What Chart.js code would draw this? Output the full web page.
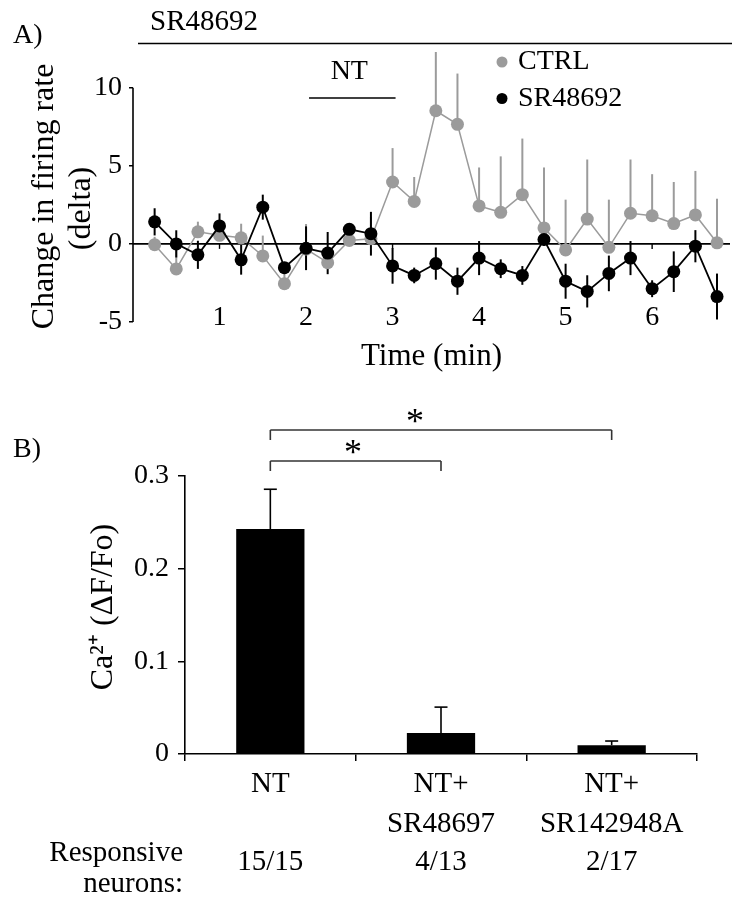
<!DOCTYPE html>
<html><head><meta charset="utf-8">
<script src="https://cdn.jsdelivr.net/npm/chart.js@4"></script>
<style>
html,body{margin:0;padding:0;background:#fff;}
#wrap{position:relative;width:739px;height:900px;overflow:hidden;}
#c1{position:absolute;left:0;top:0;}
#c2{position:absolute;left:0;top:390px;}
</style></head><body>
<div id="wrap">
<canvas id="c1" width="739" height="380"></canvas>
<canvas id="c2" width="739" height="510"></canvas>
</div>
<script>
// ---------- Panel A data ----------
const timeMin = [0.25,0.5,0.75,1.0,1.25,1.5,1.75,2.0,2.25,2.5,2.75,3.0,3.25,3.5,3.75,4.0,4.25,4.5,4.75,5.0,5.25,5.5,5.75,6.0,6.25,6.5,6.75];
const ctrlDelta = [-0.05,-1.6,0.77,0.55,0.39,-0.77,-2.55,-0.33,-1.2,0.22,0.33,3.96,2.72,8.52,7.65,2.43,2.02,3.15,1.02,-0.39,1.59,-0.22,1.96,1.8,1.3,1.85,0.07];
const ctrlErr = [0.5,1.2,0.65,0.6,0.9,1.3,0.7,1.6,0.8,0.9,1.4,2.17,1.56,3.76,3.25,2.46,3.58,3.59,3.87,3.22,3.81,3.05,3.44,2.66,2.66,2.82,2.82];
const srDelta = [1.41,0.0,-0.7,1.15,-1.02,2.35,-1.52,-0.28,-0.59,0.93,0.65,-1.41,-2.02,-1.26,-2.39,-0.91,-1.59,-2.02,0.28,-2.39,-3.04,-1.89,-0.91,-2.87,-1.78,-0.15,-3.37];
const srErr = [0.87,0.87,0.9,0.8,0.95,0.8,0.3,1.4,1.35,0.37,1.4,1.14,0.5,1.03,0.87,1.09,0.6,0.6,0.4,1.12,1.03,1.14,1.09,0.54,1.3,1.03,1.47];
const seriesNames = ['CTRL','SR48692'];
const xTickVals = [1,2,3,4,5,6];
const yTickValsA = [-5,0,5,10];

// ---------- Panel B data ----------
const groups = [['NT'],['NT+','SR48697'],['NT+','SR142948A']];
const caResp = [0.2427,0.0226,0.0095];
const caErr = [0.043,0.028,0.0045];
const responsive = ['15/15','4/13','2/17'];
const yTickValsB = [0,0.1,0.2,0.3];

const FONT = "'Liberation Serif', 'Times New Roman', serif";
const GRAY = '#9b9b9b';
Chart.defaults.font.family = FONT;
Chart.defaults.color = '#000';

function txt(ctx, s, x, y, size, align) {
  ctx.save();
  ctx.font = size + 'px ' + FONT;
  ctx.fillStyle = '#000';
  ctx.textAlign = align || 'left';
  ctx.textBaseline = 'middle';
  ctx.fillText(s, x, y);
  ctx.restore();
}
function line(ctx, x0, y0, x1, y1, w, c) {
  ctx.save();
  ctx.beginPath();
  ctx.moveTo(x0, y0); ctx.lineTo(x1, y1);
  ctx.lineWidth = w; ctx.strokeStyle = c || '#000';
  ctx.stroke();
  ctx.restore();
}

const panelA = {
  id: 'panelA',
  beforeDatasetsDraw(chart) {
    const ctx = chart.ctx, xs = chart.scales.x, ys = chart.scales.y, ca = chart.chartArea;
    // y axis line from -5 to 10
    line(ctx, ca.left, ys.getPixelForValue(-5), ca.left, ys.getPixelForValue(10), 1.6);
    // zero line with small minute ticks
    const y0 = ys.getPixelForValue(0);
    line(ctx, ca.left, y0, ca.right, y0, 1.6);
    xTickVals.forEach(v => { const px = xs.getPixelForValue(v); line(ctx, px, y0, px, y0 + 5, 1.4); });
    // minute labels near the bottom of the axis
    xTickVals.forEach(v => txt(ctx, String(v), xs.getPixelForValue(v), ys.getPixelForValue(-5) - 4, 28, 'center'));
    // error bars
    timeMin.forEach((t, i) => {
      const px = xs.getPixelForValue(t);
      line(ctx, px, ys.getPixelForValue(ctrlDelta[i]), px, ys.getPixelForValue(ctrlDelta[i] + ctrlErr[i]), 2, GRAY);
    });
    timeMin.forEach((t, i) => {
      const px = xs.getPixelForValue(t);
      line(ctx, px, ys.getPixelForValue(srDelta[i] - srErr[i]), px, ys.getPixelForValue(srDelta[i] + srErr[i]), 2, '#000');
    });
  },
  afterDraw(chart) {
    const ctx = chart.ctx, xs = chart.scales.x;
    txt(ctx, 'A)', 13, 36, 28);
    txt(ctx, 'SR48692', 150, 22, 29);
    line(ctx, 138, 43.5, 732, 43.5, 1.6);
    const nx0 = xs.getPixelForValue(2.0), nx1 = xs.getPixelForValue(3.0);
    txt(ctx, 'NT', (nx0 + nx1) / 2, 72, 28, 'center');
    line(ctx, nx0 + 3, 98, nx1 + 3, 98, 1.6);
    // legend
    const cols = [GRAY, '#000'];
    seriesNames.forEach((n, i) => {
      const y = 62 + i * 36.5;
      ctx.save(); ctx.beginPath(); ctx.arc(502, y, 5.5, 0, Math.PI * 2); ctx.fillStyle = cols[i]; ctx.fill(); ctx.restore();
      txt(ctx, n, 518, y, 28);
    });
  }
};

new Chart(document.getElementById('c1'), {
  type: 'line',
  data: {
    datasets: [
      { label: seriesNames[1], data: timeMin.map((t, i) => ({x: t, y: srDelta[i]})), borderColor: '#000', backgroundColor: '#000',
        pointRadius: 6.5, pointHoverRadius: 6.5, borderWidth: 1.8, pointBorderWidth: 0, tension: 0 },
      { label: seriesNames[0], data: timeMin.map((t, i) => ({x: t, y: ctrlDelta[i]})), borderColor: GRAY, backgroundColor: GRAY,
        pointRadius: 6.5, pointHoverRadius: 6.5, borderWidth: 1.5, pointBorderWidth: 0, tension: 0 }
    ]
  },
  options: {
    responsive: false, animation: false, events: [],
    layout: { padding: { left: 0, right: 9, top: 47, bottom: 0 } },
    plugins: { legend: { display: false }, tooltip: { enabled: false } },
    scales: {
      x: {
        type: 'linear', min: 0, max: 6.9,
        afterBuildTicks: s => { s.ticks = xTickVals.map(v => ({value: v})); },
        afterFit: s => { s.height = 58; },
        grid: { display: false, drawTicks: false },
        border: { display: false },
        ticks: { display: false },
        title: { display: true, text: 'Time (min)', font: { size: 31 }, padding: { top: 0, bottom: 5 } }
      },
      y: {
        min: -5, max: 12.6,
        afterBuildTicks: s => { s.ticks = yTickValsA.map(v => ({value: v})); },
        afterFit: s => { s.width = 133; },
        grid: { drawOnChartArea: false, tickLength: 4, color: '#000', lineWidth: 1.5 },
        border: { display: false },
        ticks: { font: { size: 28 }, padding: 7 },
        title: { display: true, text: ['Change in firing rate   ', '(delta)      '], font: { size: 32, lineHeight: 1.16 }, padding: { top: 26, bottom: 0 } }
      }
    }
  },
  plugins: [panelA]
});

const panelB = {
  id: 'panelB',
  afterDatasetsDraw(chart) {
    const ctx = chart.ctx, xs = chart.scales.x, ys = chart.scales.y, ca = chart.chartArea;
    caResp.forEach((v, i) => {
      const px = xs.getPixelForValue(i);
      const yt = ys.getPixelForValue(v + caErr[i]);
      line(ctx, px, ys.getPixelForValue(v), px, yt, 1.6);
      line(ctx, px - 6.5, yt, px + 6.5, yt, 1.6);
    });
    // significance brackets
    const x0 = xs.getPixelForValue(0), x1 = xs.getPixelForValue(1), x2 = xs.getPixelForValue(2);
    const yU = ca.top - 46, yL = ca.top - 15;
    const c = '#333';
    line(ctx, x0, yU, x2, yU, 1.6, c); line(ctx, x0, yU, x0, yU + 10, 1.6, c); line(ctx, x2, yU, x2, yU + 10, 1.6, c);
    line(ctx, x0, yL, x1, yL, 1.6, c); line(ctx, x0, yL, x0, yL + 10, 1.6, c); line(ctx, x1, yL, x1, yL + 10, 1.6, c);
    txt(ctx, '*', 415, yU - 6, 36, 'center');
    txt(ctx, '*', 353, yL - 6, 36, 'center');
    txt(ctx, 'B)', 13, 60, 28);
    txt(ctx, 'Responsive', 183, 463, 29, 'right');
    txt(ctx, 'neurons:', 183, 494, 29, 'right');
    responsive.forEach((r, i) => txt(ctx, r, xs.getPixelForValue(i), 472, 29, 'center'));
  }
};

new Chart(document.getElementById('c2'), {
  type: 'bar',
  data: {
    labels: groups,
    datasets: [{ data: caResp, backgroundColor: '#000', borderWidth: 0, barPercentage: 0.4, categoryPercentage: 1 }]
  },
  options: {
    responsive: false, animation: false, events: [],
    layout: { padding: { left: 0, right: 42, top: 86, bottom: 0 } },
    plugins: { legend: { display: false }, tooltip: { enabled: false } },
    scales: {
      x: {
        afterFit: s => { s.height = 146; },
        grid: { drawOnChartArea: false, tickLength: 7, color: '#000', lineWidth: 1.5 },
        border: { display: true, color: '#000', width: 1.6 },
        ticks: { font: { size: 29, lineHeight: 1.38 }, padding: 3, maxRotation: 0 }
      },
      y: {
        min: 0, max: 0.3,
        afterBuildTicks: s => { s.ticks = yTickValsB.map(v => ({value: v})); },
        afterFit: s => { s.width = 185; },
        grid: { drawOnChartArea: false, tickLength: 7, color: '#000', lineWidth: 1.5 },
        border: { display: true, color: '#000', width: 1.6 },
        ticks: { font: { size: 28 }, padding: 9, callback: v => (v === 0 ? '0' : v.toFixed(1)) },
        title: { display: true, text: '  Ca²⁺ (ΔF/Fo)', font: { size: 32 }, padding: { top: 84, bottom: 0 } }
      }
    }
  },
  plugins: [panelB]
});
</script>
</body></html>
